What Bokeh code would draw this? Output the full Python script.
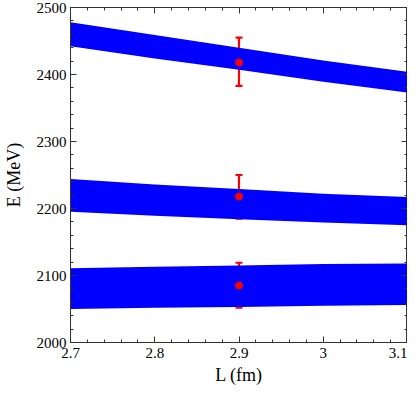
from bokeh.plotting import figure
from bokeh.models import (FixedTicker, LinearAxis, Range1d, Whisker, ColumnDataSource, TeeHead)
from bokeh.embed import file_html
from bokeh.resources import INLINE

# ---- data ----
band_x = [2.7, 2.8, 2.9, 3.0, 3.1]
band1_lo = [2442, 2424, 2407, 2389, 2373]
band1_hi = [2478, 2459, 2440, 2421, 2404]
band2_lo = [2195, 2189, 2184, 2179, 2175]
band2_hi = [2244, 2236, 2229, 2222, 2217]
band3_lo = [2050, 2052, 2053, 2055, 2056]
band3_hi = [2111, 2113, 2115, 2117, 2118]

pt_x = [2.9, 2.9, 2.9]
pt_y = [2418, 2218, 2085]
pt_lo = [2383, 2185, 2052]
pt_hi = [2455, 2250, 2119]

x_ticks = [2.7, 2.8, 2.9, 3.0, 3.1]
x_tick_labels = ["2.7", "2.8", "2.9", "3", "3.1"]
x_minor = [round(2.7 + 0.02 * i, 2) for i in range(21)]
y_ticks = [2000, 2100, 2200, 2300, 2400, 2500]
y_minor = [2000 + 20 * i for i in range(26)]

FONT = "Liberation Serif"

p = figure(width=407, height=387, output_backend="svg", toolbar_location=None,
           x_range=Range1d(2.7, 3.1), y_range=Range1d(2000, 2500),
           min_border_left=61, min_border_right=0, min_border_top=7, min_border_bottom=10)
p.grid.visible = False
p.outline_line_color = "#333333"
p.background_fill_color = "white"
p.border_fill_color = "white"

for lo, hi in [(band1_lo, band1_hi), (band2_lo, band2_hi), (band3_lo, band3_hi)]:
    p.varea(x=band_x, y1=lo, y2=hi, fill_color="#0000ff")

src = ColumnDataSource(dict(x=pt_x, y=pt_y, lo=pt_lo, hi=pt_hi))
w = Whisker(source=src, base="x", lower="lo", upper="hi", line_color="#ff0000", line_width=2.2,
            upper_head=TeeHead(size=7, line_color="#ff0000", line_width=2.2),
            lower_head=TeeHead(size=7, line_color="#ff0000", line_width=2.2))
p.add_layout(w)
p.scatter(x="x", y="y", source=src, size=7, color="#ff0000")

def style(ax, labels=True):
    ax.major_tick_in = 6
    ax.major_tick_out = 0
    ax.minor_tick_in = 3
    ax.minor_tick_out = 0
    ax.axis_line_color = "#333333"
    ax.major_tick_line_color = "#333333"
    ax.minor_tick_line_color = "#333333"
    ax.major_label_text_font = FONT
    ax.major_label_text_font_size = "15px"
    ax.major_label_text_color = "black"
    ax.axis_label_text_font = FONT
    ax.axis_label_text_font_size = "18px"
    ax.axis_label_text_font_style = "normal"
    ax.axis_label_text_color = "black"
    if not labels:
        ax.major_label_standoff = 0
        ax.axis_label_standoff = 0
        ax.major_label_text_font_size = "1px"

xt = FixedTicker(ticks=x_ticks, minor_ticks=x_minor)
yt = FixedTicker(ticks=y_ticks, minor_ticks=y_minor)

p.xaxis.ticker = xt
p.yaxis.ticker = yt
p.xaxis.major_label_overrides = {t: l for t, l in zip(x_ticks, x_tick_labels)}
p.xaxis.axis_label = "L (fm)"
p.yaxis.axis_label = "E (MeV)"
style(p.xaxis[0])
style(p.yaxis[0])
p.xaxis.major_label_standoff = 5
p.yaxis.major_label_standoff = 4
p.xaxis.axis_label_standoff = 4
p.yaxis.axis_label_standoff = 10

top = LinearAxis(ticker=xt, major_label_overrides={t: "" for t in x_ticks})
right = LinearAxis(ticker=yt, major_label_overrides={t: "" for t in y_ticks})
style(top, labels=False)
style(right, labels=False)
p.add_layout(top, "above")
p.add_layout(right, "right")

open("out.html", "w").write(file_html(p, INLINE))
